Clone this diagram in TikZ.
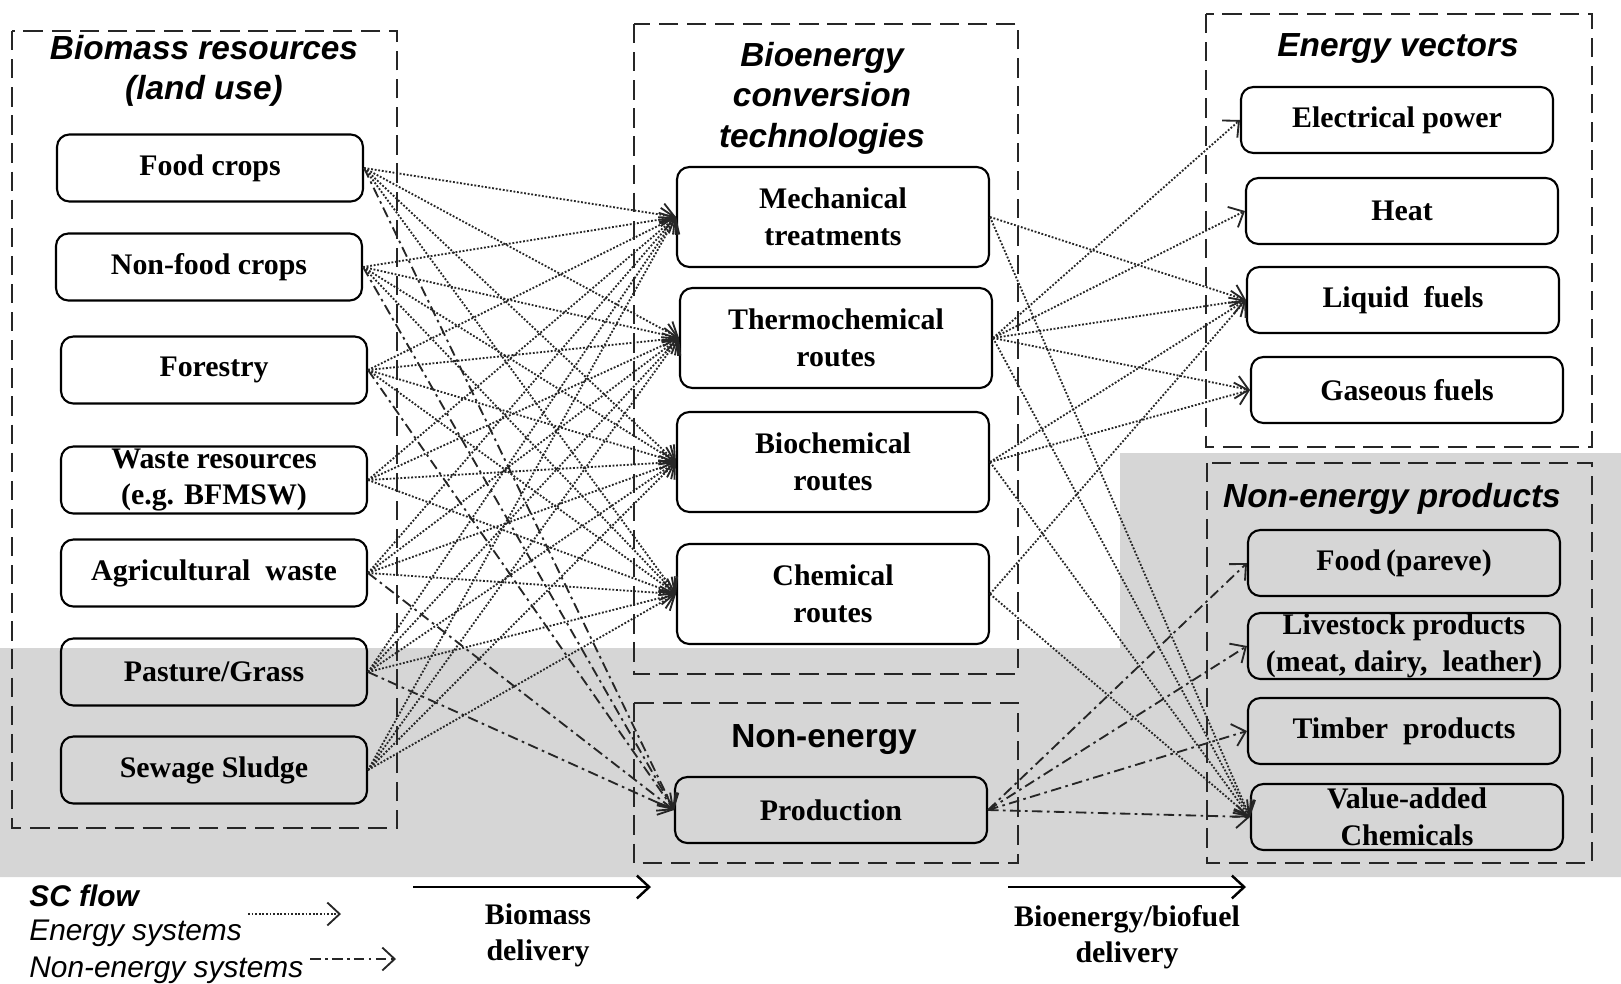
\documentclass[tikz,border=0pt]{standalone}
\usepackage{fontspec}
\setmainfont{Liberation Serif}
\setsansfont{Liberation Sans}
\usepackage{tikz}
\usetikzlibrary{calc, arrows.meta}

\begin{document}
\begin{tikzpicture}[x=0.02cm, y=-0.02cm,
	box/.style={draw, rounded corners=7pt, line width=1.2pt, align=center, inner sep=0pt, font=\fontsize{17}{21}\selectfont\bfseries},
	res/.style={box, minimum width=6.12cm, minimum height=1.34cm},
	tech/.style={box, minimum width=6.24cm, minimum height=2cm},
	vec/.style={box, minimum width=6.24cm, minimum height=1.32cm},
	group/.style={draw=black!85, line width=1.5pt, dash pattern=on 11pt off 5pt},
	heading/.style={align=center, inner sep=0pt, font=\fontsize{19}{23}\selectfont\sffamily\bfseries\itshape},
	legend/.style={anchor=west, inner sep=0pt, font=\fontsize{17}{20}\selectfont\sffamily\itshape},
	energy/.style={->, line width=1.05pt, densely dotted, black!85},
	nonenergy/.style={->, line width=1.05pt, dash pattern=on 6pt off 2.5pt on 1.5pt off 2.5pt, black!85},
	>={Straight Barb[length=7pt,width=13pt]}]
	\useasboundingbox (0,0) rectangle (1621,983);
	
	% grey band of the non-energy systems
	\fill [black!16] (0,648) -- (1120,648) -- (1120,453) -- (1621,453) -- (1621,877) -- (0,877) -- cycle;
	
	% dashed groups
	\draw [group] (12,31) rectangle (397,828);
	\draw [group] (634,24) rectangle (1018,674);
	\draw [group] (634,703) rectangle (1018,863);
	\draw [group] (1206,14) rectangle (1592,447);
	\draw [group] (1207,463) rectangle (1592,863);
	
	\node (tbio) at (204,71) [heading] {Biomass resources\\(land use)};
	\node (tconv) at (822,98) [heading] {Bioenergy\\conversion\\technologies};
	\node (tnon) at (824,740) [heading, font=\fontsize{19}{23}\selectfont\sffamily\bfseries] {Non-energy};
	\node (tvec) at (1398,48) [heading] {Energy vectors};
	\node (tprod) at (1392,499) [heading] {Non-energy products};
	
	% Biomass resources
	\node (food) at (210,168) [res] {Food crops};
	\node (nonfood) at (209,267) [res] {Non-food crops};
	\node (forest) at (214,370) [res] {Forestry};
	\node (waste) at (214,480) [res] {Waste resources\\(e.g. BFMSW)};
	\node (agri) at (214,573) [res] {Agricultural\ \ waste};
	\node (pasture) at (214,672) [res] {Pasture/Grass};
	\node (sewage) at (214,770) [res] {Sewage Sludge};
	
	% Conversion technologies
	\node (mech) at (833,217) [tech] {Mechanical\\treatments};
	\node (thermo) at (836,338) [tech] {Thermochemical\\routes};
	\node (bioch) at (833,462) [tech] {Biochemical\\routes};
	\node (chem) at (833,594) [tech] {Chemical\\routes};
	\node (prod) at (831,810) [tech, minimum height=1.32cm] {Production};
	
	% Energy vectors
	\node (elec) at (1397,120) [vec] {Electrical power};
	\node (heat) at (1402,211) [vec] {Heat};
	\node (liquid) at (1403,300) [vec] {Liquid\ \ fuels};
	\node (gas) at (1407,390) [vec] {Gaseous fuels};
	
	% Non-energy products
	\node (pareve) at (1404,563) [vec] {Food\,(pareve)};
	\node (stock) at (1404,646) [vec] {Livestock products\\(meat, dairy,\ \ leather)};
	\node (timber) at (1404,731) [vec] {Timber\ \ products};
	\node (value) at (1407,817) [vec] {Value-added\\Chemicals};
	
	% Biomass delivery
	\foreach \s in {food,nonfood,forest,waste,agri,pasture,sewage} {
		\foreach \t in {mech,thermo,bioch,chem} {
			\draw [energy] (\s.east) -- (\t.west);
		}
	}
	\foreach \s in {food,nonfood,forest,agri,pasture} {
		\draw [nonenergy] (\s.east) -- (prod.west);
	}
	
	% Bioenergy/biofuel delivery
	\foreach \s/\t in {mech/liquid, mech/value, thermo/elec, thermo/heat, thermo/liquid, thermo/gas, thermo/value, bioch/liquid, bioch/gas, bioch/value, chem/liquid, chem/value} {
		\draw [energy] (\s.east) -- (\t.west);
	}
	\foreach \t in {pareve,stock,timber,value} {
		\draw [nonenergy] (prod.east) -- (\t.west);
	}
	
	% SC flow
	\coordinate (bm1) at (413,887);
	\coordinate (bm2) at (651,887);
	\draw [->, line width=1.4pt] (bm1) -- (bm2);
	\node (bmtext) at (538,935) [align=center, font=\fontsize{17}{20.5}\selectfont\bfseries] {Biomass\\delivery};
	\coordinate (be1) at (1008,887);
	\coordinate (be2) at (1246,887);
	\draw [->, line width=1.4pt] (be1) -- (be2);
	\node (betext) at (1127,937) [align=center, font=\fontsize{17}{20.5}\selectfont\bfseries] {Bioenergy/biofuel\\delivery};
	
	\node (scflow) at (29,896) [legend, font=\fontsize{17}{20}\selectfont\sffamily\bfseries\itshape] {SC flow};
	\node (ensys) at (29,933) [legend] {Energy systems};
	\node (nesys) at (29,970) [legend] {Non-energy systems};
	\coordinate (le1) at (248,914);
	\coordinate (le2) at (341,914);
	\draw [energy] (le1) -- (le2);
	\coordinate (ln1) at (310,959);
	\coordinate (ln2) at (396,959);
	\draw [nonenergy] (ln1) -- (ln2);
\end{tikzpicture}
\end{document}
